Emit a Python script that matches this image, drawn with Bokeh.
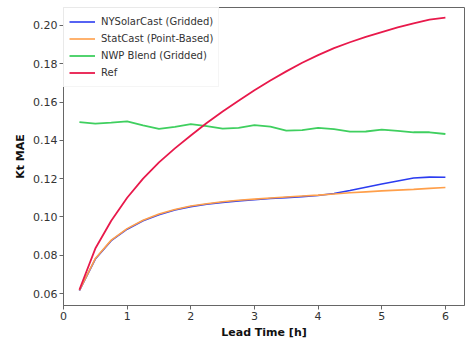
from bokeh.plotting import figure
from bokeh.models import Range1d, FixedTicker, NumeralTickFormatter, Legend, LegendItem
from bokeh.embed import file_html
from bokeh.resources import INLINE

lead = [0.25, 0.5, 0.75, 1.0, 1.25, 1.5, 1.75, 2.0, 2.25, 2.5, 2.75, 3.0,
        3.25, 3.5, 3.75, 4.0, 4.25, 4.5, 4.75, 5.0, 5.25, 5.5, 5.75, 6.0]

nysolarcast = [0.0615, 0.0780, 0.0876, 0.0936, 0.0980, 0.1012, 0.1036, 0.1054,
               0.1066, 0.1076, 0.1084, 0.1090, 0.1096, 0.1101, 0.1106, 0.1112,
               0.1122, 0.1138, 0.1155, 0.1172, 0.1188, 0.1203, 0.1208, 0.1207]

statcast = [0.0617, 0.0783, 0.0879, 0.0939, 0.0983, 0.1015, 0.1039, 0.1057,
            0.1069, 0.1079, 0.1087, 0.1093, 0.1099, 0.1104, 0.1109, 0.1114,
            0.1120, 0.1126, 0.1131, 0.1136, 0.1140, 0.1144, 0.1149, 0.1154]

nwp_blend = [0.1495, 0.1487, 0.1492, 0.1499, 0.1478, 0.1460, 0.1470, 0.1484,
             0.1474, 0.1461, 0.1465, 0.1479, 0.1472, 0.1451, 0.1453, 0.1465,
             0.1458, 0.1445, 0.1446, 0.1456, 0.1449, 0.1442, 0.1442, 0.1433]

ref = [0.0620, 0.0835, 0.0980, 0.1100, 0.1200, 0.1285, 0.1358, 0.1425,
       0.1490, 0.1550, 0.1607, 0.1661, 0.1712, 0.1760, 0.1805, 0.1845,
       0.1881, 0.1912, 0.1940, 0.1965, 0.1989, 0.2011, 0.2030, 0.2040]

x_ticks = [0, 1, 2, 3, 4, 5, 6]
y_ticks = [0.06, 0.08, 0.10, 0.12, 0.14, 0.16, 0.18, 0.20]

series = [
    ("NYSolarCast (Gridded)", nysolarcast, "#2b3cf0", 1.6),
    ("StatCast (Point-Based)", statcast, "#ff9f4a", 1.6),
    ("NWP Blend (Gridded)", nwp_blend, "#3fcf5f", 1.8),
    ("Ref", ref, "#e8194b", 1.8),
]

p = figure(width=465, height=341, output_backend="svg", toolbar_location=None,
           x_range=Range1d(0.0, 6.3), y_range=Range1d(0.05378, 0.20933),
           min_border_left=63, min_border_right=1, min_border_top=7,
           min_border_bottom=34)

p.background_fill_color = "white"
p.border_fill_color = "white"
p.outline_line_color = "#666666"
p.outline_line_width = 1
p.grid.visible = False

items = []
for name, ys, color, lw in series:
    r = p.line(lead, ys, line_color=color, line_width=lw)
    items.append(LegendItem(label=name, renderers=[r]))

legend = Legend(items=items, location="top_left", margin=0, padding=5,
                spacing=0, glyph_width=26, glyph_height=17, label_height=17,
                label_standoff=6, label_text_font="DejaVu Sans",
                label_text_font_size="10px", label_text_color="#333333",
                border_line_color="#eeeeee", border_line_alpha=0.6,
                background_fill_color="white", background_fill_alpha=0.8)
p.add_layout(legend)

for ax in (p.xaxis[0], p.yaxis[0]):
    ax.axis_line_color = "#666666"
    ax.major_tick_line_color = "#666666"
    ax.major_tick_out = 4
    ax.major_tick_in = 0
    ax.minor_tick_out = 0
    ax.minor_tick_in = 0
    ax.major_label_text_font = "DejaVu Sans"
    ax.major_label_text_font_size = "11px"
    ax.major_label_text_color = "#333333"
    ax.major_label_standoff = 2
    ax.axis_label_text_font = "DejaVu Sans"
    ax.axis_label_text_font_size = "11px"
    ax.axis_label_text_font_style = "bold"
    ax.axis_label_text_color = "#111111"
    ax.axis_label_standoff = 3

p.xaxis.ticker = FixedTicker(ticks=x_ticks)
p.yaxis.ticker = FixedTicker(ticks=y_ticks)
p.yaxis.formatter = NumeralTickFormatter(format="0.00")
p.xaxis.axis_label = "Lead Time [h]"
p.yaxis.axis_label = "Kt MAE"

open("out.html", "w").write(file_html(p, INLINE))
